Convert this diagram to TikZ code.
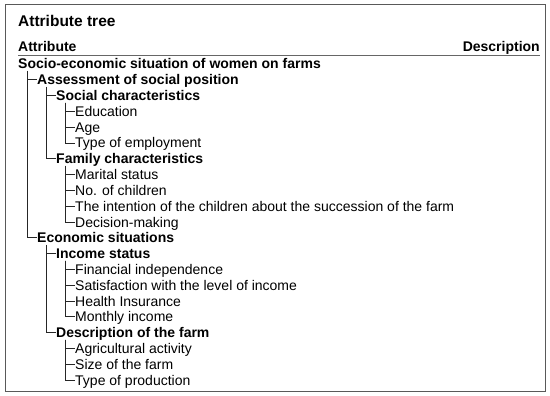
\documentclass[tikz,border=0pt]{standalone}
\usepackage{fontspec}
\setmainfont{Liberation Sans}
\tikzset{
  voce/.style={anchor=west, inner sep=0pt, text height=10pt, text depth=0pt,
    font=\fontsize{14}{16}\selectfont},
  ramo/.style={draw=black!85, line width=0.7pt},
}
\begin{document}
\begin{tikzpicture}[x=1pt, y=-1pt]
  \useasboundingbox (0,0) rectangle (550,396);
  \draw[black!65, line width=1pt] (5,5) rectangle (545,391);
  % intestazione
  \node[voce, font=\fontsize{15.5}{18}\selectfont\bfseries] (titolo) at (18,22) {Attribute tree};
  \node[voce, font=\fontsize{14}{16}\selectfont\bfseries] (colA) at (18,47) {Attribute};
  \node[voce, anchor=east, font=\fontsize{14}{16}\selectfont\bfseries] (colD) at (540,47) {Description};
  \draw[black!60, line width=0.8pt] ([yshift=-8pt]colA.west) -- ([yshift=-8pt]colD.east);
  % voci dell'albero: nome/livello/testo
  \foreach \n/\l/\t [count=\i from 0] in {
      soc/0/Socio-economic situation of women on farms,
      ass/1/Assessment of social position,
      soci/2/Social characteristics,
      edu/3/Education,
      age/3/Age,
      emp/3/Type of employment,
      fam/2/Family characteristics,
      mar/3/Marital status,
      chi/3/No. of children,
      int/3/The intention of the children about the succession of the farm,
      dec/3/Decision-making,
      eco/1/Economic situations,
      inc/2/Income status,
      fin/3/Financial independence,
      sat/3/Satisfaction with the level of income,
      hea/3/Health Insurance,
      mon/3/Monthly income,
      far/2/Description of the farm,
      agr/3/Agricultural activity,
      siz/3/Size of the farm,
      pro/3/Type of production} {
    \node[voce] (\n) at ({18+19*\l},{64+15.8*\i}) {\ifnum\l<3 \bfseries\fi\t};
    \coordinate (\n-t) at ([xshift=9pt, yshift=-7pt]\n.west);
  }
  % rami
  \foreach \p/\c in {soc/ass, soc/eco, ass/soci, ass/fam, soci/edu, soci/age, soci/emp,
      fam/mar, fam/chi, fam/int, fam/dec, eco/inc, eco/far,
      inc/fin, inc/sat, inc/hea, inc/mon, far/agr, far/siz, far/pro} {
    \draw[ramo] (\p-t) |- (\c.west);
  }
\end{tikzpicture}
\end{document}
